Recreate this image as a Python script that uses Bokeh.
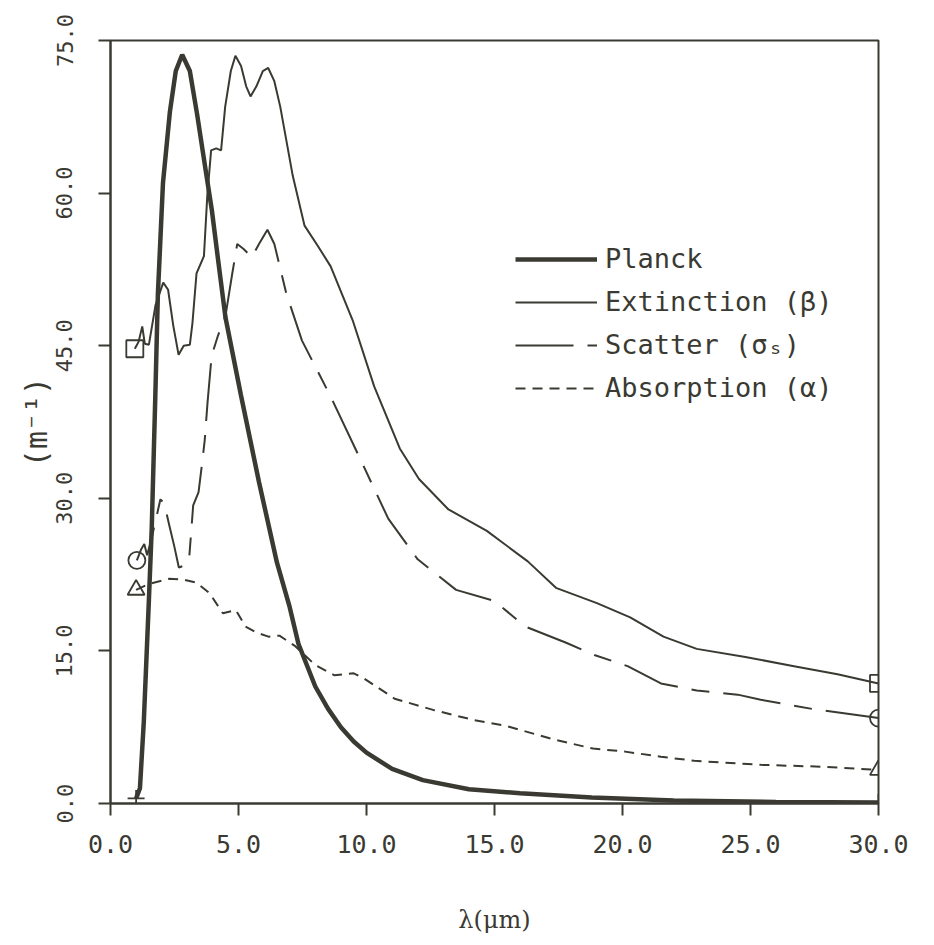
import math
from bokeh.plotting import figure
from bokeh.models import Range1d, FixedTicker, PrintfTickFormatter, Legend, LegendItem
from bokeh.embed import file_html
from bokeh.resources import INLINE

# ---------------- data ----------------
lam_planck = [1.0, 1.15, 1.3, 1.5, 1.61, 1.75, 1.85, 2.05, 2.32, 2.55, 2.8, 3.1, 3.38,
              3.72, 3.96, 4.2, 4.49, 5.09, 5.8, 6.5, 7.0, 7.34, 8.0, 8.5, 9.0, 9.5,
              10.0, 11.0, 12.2, 14.0, 16.0, 18.8, 22.0, 26.0, 30.0]
planck = [0.5, 1.5, 8.0, 20.0, 27.0, 40.0, 50.0, 61.0, 68.0, 72.0, 73.6, 72.0, 67.8,
          62.2, 58.3, 53.5, 47.8, 40.2, 31.6, 23.7, 19.3, 15.7, 11.5, 9.3, 7.5, 6.1,
          5.0, 3.4, 2.3, 1.4, 1.0, 0.6, 0.3, 0.15, 0.1]

lam_ext = [0.95, 1.1, 1.24, 1.34, 1.5, 1.76, 2.06, 2.25, 2.45, 2.66, 2.86, 3.1, 3.2,
           3.36, 3.65, 3.78, 3.93, 4.13, 4.32, 4.48, 4.7, 4.88, 5.1, 5.3, 5.47, 5.7,
           5.95, 6.16, 6.4, 6.63, 7.12, 7.58, 8.1, 8.6, 9.46, 10.3, 11.3, 12.05, 13.2,
           14.7, 16.3, 17.4, 19.0, 20.3, 21.6, 22.9, 24.8, 26.7, 28.4, 30.0]
ext = [44.7, 45.4, 46.9, 45.2, 45.1, 49.0, 51.2, 50.5, 47.0, 44.1, 45.0, 45.1, 47.2,
       52.1, 53.8, 59.7, 64.2, 64.4, 64.2, 68.5, 72.0, 73.5, 72.5, 70.5, 69.5, 70.5,
       72.0, 72.3, 71.0, 68.5, 61.7, 56.8, 54.8, 52.8, 47.5, 41.0, 34.9, 31.9, 28.9,
       26.8, 23.8, 21.2, 19.7, 18.3, 16.4, 15.2, 14.4, 13.5, 12.7, 11.8]

lam_sca = [1.03, 1.2, 1.32, 1.43, 1.6, 1.95, 2.1, 2.3, 2.49, 2.67, 2.9, 3.07, 3.23,
           3.44, 3.58, 3.68, 3.79, 3.95, 4.2, 4.49, 4.75, 4.95, 5.2, 5.52, 5.8, 6.13,
           6.4, 6.86, 7.48, 8.6, 9.73, 10.85, 12.0, 13.5, 15.0, 16.2, 17.8, 18.9, 20.2,
           21.5, 22.9, 24.5, 25.4, 27.4, 30.0]
sca = [23.9, 25.0, 25.5, 24.4, 26.0, 29.9, 29.5, 27.3, 25.3, 23.2, 23.4, 24.0, 29.3,
       30.6, 33.5, 35.7, 39.4, 44.0, 46.0, 47.9, 52.0, 55.0, 54.5, 53.7, 55.0, 56.4,
       55.0, 50.2, 45.5, 40.0, 34.0, 28.0, 24.0, 21.0, 19.9, 17.4, 15.8, 14.6, 13.5,
       11.8, 11.1, 10.7, 10.2, 9.3, 8.4]

lam_abs = [1.0, 1.52, 2.3, 2.86, 3.36, 3.86, 4.39, 4.9, 5.27, 5.7, 6.17, 6.6, 7.2,
           8.0, 8.75, 9.5, 9.9, 11.1, 12.6, 14.2, 15.5, 17.3, 18.85, 20.1, 21.5, 22.8,
           25.4, 28.0, 30.0]
absn = [21.0, 21.6, 22.1, 22.0, 21.7, 20.7, 18.7, 19.0, 17.4, 16.8, 16.4, 16.5, 15.5,
        13.6, 12.6, 12.8, 12.3, 10.3, 9.2, 8.2, 7.6, 6.3, 5.4, 5.1, 4.6, 4.2, 3.8,
        3.6, 3.3]

x_ticks = [0, 5, 10, 15, 20, 25, 30]
y_ticks = [0, 15, 30, 45, 60, 75]
legend_labels = ["Planck", "Extinction (β)", "Scatter (σₛ)", "Absorption (α)"]
x_title = "λ(μm)"
y_title = "(m⁻¹)"

# ---------------- figure ----------------
INK = "#3a3a32"
MONO = "DejaVu Sans Mono"

p = figure(width=934, height=945, output_backend="svg", toolbar_location=None,
           x_range=Range1d(0, 30), y_range=Range1d(0, 75),
           min_border_left=110, min_border_right=56, min_border_top=40,
           min_border_bottom=142)
p.background_fill_color = "white"
p.border_fill_color = "white"
p.outline_line_color = INK
p.outline_line_width = 2
p.xgrid.visible = False
p.ygrid.visible = False

for ax in (p.xaxis[0], p.yaxis[0]):
    ax.axis_line_color = INK
    ax.axis_line_width = 2
    ax.major_tick_line_color = INK
    ax.major_tick_line_width = 2
    ax.major_tick_out = 12
    ax.major_tick_in = 0
    ax.minor_tick_line_color = None
    ax.major_label_text_color = INK
    ax.major_label_text_font = MONO
    ax.formatter = PrintfTickFormatter(format="%.1f")
    ax.axis_label_text_color = INK
    ax.axis_label_text_font_style = "normal"

p.xaxis[0].ticker = FixedTicker(ticks=x_ticks)
p.yaxis[0].ticker = FixedTicker(ticks=y_ticks)
p.xaxis[0].major_label_text_font_size = "25px"
p.yaxis[0].major_label_text_font_size = "22px"
p.xaxis[0].major_label_standoff = 19
p.yaxis[0].major_label_standoff = 26
p.yaxis[0].major_label_orientation = "parallel"

p.xaxis[0].axis_label = x_title
p.xaxis[0].axis_label_text_font = "DejaVu Serif"
p.xaxis[0].axis_label_text_font_size = "24px"
p.xaxis[0].axis_label_standoff = 50
p.yaxis[0].axis_label = y_title
p.yaxis[0].axis_label_text_font = MONO
p.yaxis[0].axis_label_text_font_size = "30px"
p.yaxis[0].axis_label_standoff = 0

r_planck = p.line(lam_planck, planck, line_color=INK, line_width=4.5)
r_ext = p.line(lam_ext, ext, line_color=INK, line_width=2)
r_sca = p.line(lam_sca, sca, line_color=INK, line_width=2, line_dash="58 14 18 14")
r_abs = p.line(lam_abs, absn, line_color=INK, line_width=2, line_dash="10 7")

mk = dict(line_color=INK, line_width=1.8, fill_alpha=0, size=17)
p.scatter([lam_ext[0], lam_ext[-1]], [ext[0], ext[-1]], marker="square", **mk)
p.scatter([lam_sca[0], lam_sca[-1]], [sca[0], sca[-1]], marker="circle", **mk)
p.scatter([lam_abs[0], lam_abs[-1]], [absn[0], absn[-1]], marker="triangle", **mk)
p.scatter([lam_planck[0], lam_planck[-1]], [planck[0], planck[-1]], marker="cross", **mk)

legend = Legend(items=[LegendItem(label=legend_labels[0], renderers=[r_planck]),
                       LegendItem(label=legend_labels[1], renderers=[r_ext]),
                       LegendItem(label=legend_labels[2], renderers=[r_sca]),
                       LegendItem(label=legend_labels[3], renderers=[r_abs])],
                location=(405, 400))
legend.background_fill_alpha = 0
legend.border_line_color = None
legend.padding = 0
legend.margin = 0
legend.spacing = 12
legend.glyph_width = 82
legend.glyph_height = 30
legend.label_height = 30
legend.label_standoff = 8
legend.label_text_font = MONO
legend.label_text_font_size = "27px"
legend.label_text_color = INK
p.add_layout(legend)

open("out.html", "w").write(file_html(p, INLINE))
